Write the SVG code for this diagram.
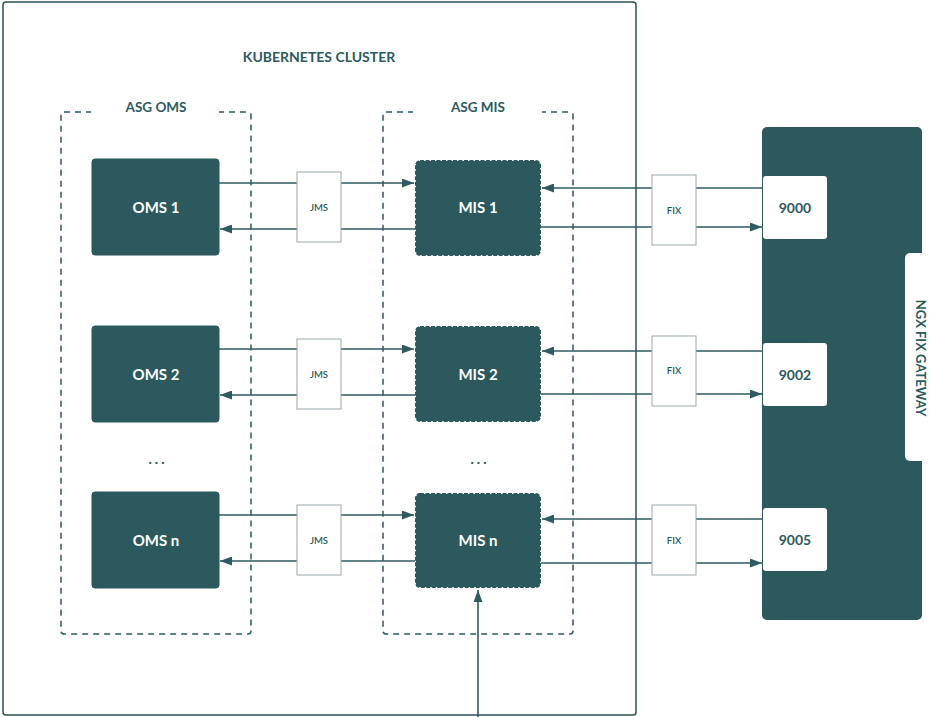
<svg xmlns="http://www.w3.org/2000/svg" width="932" height="717" viewBox="0 0 932 717">
<defs>
<style>
.lbl{font-family:Lato,"Open Sans","Liberation Sans",sans-serif;font-weight:700;fill:#2b5a60;text-anchor:middle;dominant-baseline:central}
.wt{font-family:Lato,"Open Sans","Liberation Sans",sans-serif;font-weight:700;fill:#ffffff;text-anchor:middle;dominant-baseline:central;font-size:15px}
.grp{fill:none;stroke:#2b5a60;stroke-width:1.5;stroke-dasharray:6 5}
.oms{fill:#2b595e;stroke:#2b595e;stroke-width:1}
.mis{fill:#2b595e;stroke:#2b595e;stroke-width:2;stroke-dasharray:4 1.5}
.tag{fill:#ffffff;stroke:#9aa8aa;stroke-width:1}
.port{fill:#ffffff}
.ln{stroke:#2e5a62;stroke-width:1.6;fill:none;marker-end:url(#ah)}
.sm{font-size:9.5px;font-weight:600}
.dots{font-size:14px;font-weight:900;letter-spacing:3px}
</style>
<marker id="ah" viewBox="0 0 12 9" refX="12" refY="4.5" markerWidth="12" markerHeight="9" markerUnits="userSpaceOnUse" orient="auto">
<path d="M0,0 L12,4.5 L0,9 z" fill="#2e5a62"/>
</marker>
</defs>
<rect width="932" height="717" fill="#ffffff"/>

<g id="cluster">
<rect x="3" y="2" width="633" height="713" rx="3" fill="none" stroke="#2d5059" stroke-width="1.5"/>
<text class="lbl" x="319" y="56" font-size="14">KUBERNETES CLUSTER</text>
</g>

<g id="asg-oms">
<rect class="grp" x="61" y="112" width="190" height="522" rx="3"/>
<rect x="91" y="100" width="128" height="20" fill="#ffffff"/>
<text class="lbl" x="156" y="107" font-size="13.5">ASG OMS</text>
</g>
<g id="asg-mis">
<rect class="grp" x="383" y="112" width="190" height="522" rx="3"/>
<rect x="413" y="100" width="129" height="20" fill="#ffffff"/>
<text class="lbl" x="478" y="107" font-size="13.5">ASG MIS</text>
</g>

<g id="gateway">
<rect x="762" y="127" width="160" height="493" rx="5" fill="#2b595e"/>
<rect x="905" y="253" width="40" height="208" rx="5" fill="#ffffff"/>
<text class="lbl" font-size="13" transform="translate(921,358) rotate(90)">NGX FIX GATEWAY</text>
</g>

<g id="connectors">
<line class="ln" x1="219" y1="183" x2="414" y2="183"/>
<line class="ln" x1="415" y1="229" x2="220" y2="229"/>
<line class="ln" x1="219" y1="349" x2="414" y2="349"/>
<line class="ln" x1="415" y1="395" x2="220" y2="395"/>
<line class="ln" x1="219" y1="515" x2="414" y2="515"/>
<line class="ln" x1="415" y1="561" x2="220" y2="561"/>
<line class="ln" x1="763" y1="188" x2="542" y2="188"/>
<line class="ln" x1="541" y1="227" x2="762" y2="227"/>
<line class="ln" x1="763" y1="351" x2="542" y2="351"/>
<line class="ln" x1="541" y1="394" x2="762" y2="394"/>
<line class="ln" x1="763" y1="519" x2="542" y2="519"/>
<line class="ln" x1="541" y1="563" x2="762" y2="563"/>
<line class="ln" x1="478" y1="717" x2="478" y2="590"/>
</g>

<g id="oms1"><rect class="oms" x="92" y="159" width="127" height="96" rx="3"/><text class="wt" x="156" y="207">OMS 1</text></g>
<g id="oms2"><rect class="oms" x="92" y="326" width="127" height="96" rx="3"/><text class="wt" x="156" y="374">OMS 2</text></g>
<g id="omsn"><rect class="oms" x="92" y="492" width="127" height="96" rx="3"/><text class="wt" x="156" y="540">OMS n</text></g>
<g id="oms-dots"><text class="lbl dots" x="158" y="458">...</text></g>

<g id="jms1"><rect class="tag" x="297" y="172" width="44" height="70"/><text class="lbl sm" x="319" y="207">JMS</text></g>
<g id="jms2"><rect class="tag" x="297" y="339" width="44" height="70"/><text class="lbl sm" x="319" y="374">JMS</text></g>
<g id="jms3"><rect class="tag" x="297" y="505" width="44" height="70"/><text class="lbl sm" x="319" y="540">JMS</text></g>

<g id="mis1"><rect class="mis" x="416" y="161" width="124" height="94" rx="4"/><text class="wt" x="478" y="207">MIS 1</text></g>
<g id="mis2"><rect class="mis" x="416" y="327" width="124" height="94" rx="4"/><text class="wt" x="478" y="374">MIS 2</text></g>
<g id="misn"><rect class="mis" x="416" y="494" width="124" height="93" rx="4"/><text class="wt" x="478" y="540">MIS n</text></g>
<g id="mis-dots"><text class="lbl dots" x="480" y="458">...</text></g>

<g id="fix1"><rect class="tag" x="652" y="175" width="44" height="70"/><text class="lbl sm" x="674" y="210">FIX</text></g>
<g id="fix2"><rect class="tag" x="652" y="336" width="44" height="70"/><text class="lbl sm" x="674" y="370">FIX</text></g>
<g id="fix3"><rect class="tag" x="652" y="505" width="44" height="70"/><text class="lbl sm" x="674" y="540">FIX</text></g>

<g id="p9000"><rect class="port" x="763" y="176" width="64" height="63" rx="3"/><text class="lbl" x="795" y="207" font-size="14">9000</text></g>
<g id="p9002"><rect class="port" x="763" y="343" width="64" height="63" rx="3"/><text class="lbl" x="795" y="374" font-size="14">9002</text></g>
<g id="p9005"><rect class="port" x="763" y="508" width="64" height="63" rx="3"/><text class="lbl" x="795" y="539" font-size="14">9005</text></g>
</svg>
